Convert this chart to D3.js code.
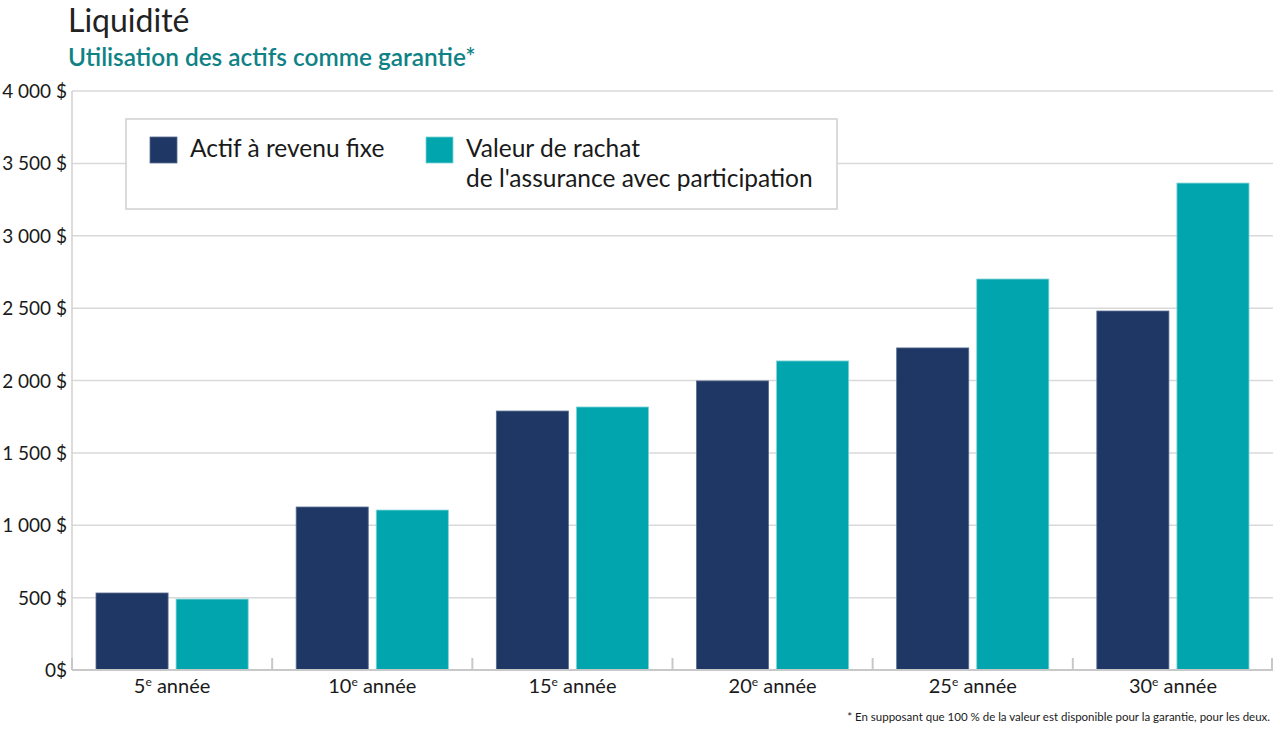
<!DOCTYPE html>
<html><head><meta charset="utf-8">
<script src="https://cdn.jsdelivr.net/npm/d3@7"></script>
<style>body{margin:0;background:#fff;} svg{display:block;font-family:Lato,"Open Sans",sans-serif;}</style>
</head><body>
<svg id="c" width="1280" height="733"></svg>
<script>
const categories = ["5", "10", "15", "20", "25", "30"];
const seriesNames = ["Actif à revenu fixe", "Valeur de rachat|de l'assurance avec participation"];
const fixedIncome = [532, 1126, 1789, 1997, 2225, 2480];
const surrenderValue = [490, 1105, 1817, 2135, 2701, 3364];
const yTicks = [0, 500, 1000, 1500, 2000, 2500, 3000, 3500, 4000];
const colors = ["#1e3765", "#00a5ad"];

const svg = d3.select("#c");
const L = 72, R = 1273, T = 91, B = 670;
const x = d3.scaleBand().domain(categories).range([L, R]).paddingInner(0).paddingOuter(0);
const x1 = d3.scaleBand().domain([0, 1]).range([24, x.bandwidth() - 24]).paddingInner(0.1);
const y = d3.scaleLinear().domain([0, 4000]).range([B, T]);

const fmt = v => v === 0 ? "0$" : d3.format(",")(v).replace(/,/g, " ") + " $";

// gridlines
svg.append("g").selectAll("line").data(yTicks.filter(d => d > 0)).join("line")
  .attr("x1", L).attr("x2", R).attr("y1", d => y(d)).attr("y2", d => y(d))
  .attr("stroke", "#d9d9d9").attr("stroke-width", 1.5);
// y labels
svg.append("g").selectAll("text").data(yTicks).join("text")
  .attr("x", 67).attr("y", d => y(d) + 7).attr("text-anchor", "end")
  .attr("font-size", 19).attr("fill", "#1a1a1a").text(fmt);
// left axis line
svg.append("line").attr("x1", L).attr("x2", L).attr("y1", T).attr("y2", B).attr("stroke", "#d0d0d0").attr("stroke-width", 1.5);

// bars
const data = categories.map((c, i) => ({c, vals: [fixedIncome[i], surrenderValue[i]]}));
const g = svg.append("g").selectAll("g").data(data).join("g").attr("transform", d => `translate(${x(d.c)},0)`);
g.selectAll("rect").data(d => d.vals.map((v, k) => ({v, k}))).join("rect")
  .attr("x", d => x1(d.k)).attr("width", x1.bandwidth())
  .attr("y", d => y(d.v)).attr("height", d => B - y(d.v))
  .attr("fill", d => colors[d.k])
  .attr("stroke", d => d.k === 0 ? "#5a6d91" : "#7fd2d6").attr("stroke-width", 0.8);

// baseline & ticks
svg.append("line").attr("x1", L).attr("x2", R).attr("y1", B).attr("y2", B).attr("stroke", "#c8c8c8").attr("stroke-width", 2);
const bounds = categories.map(c => x(c)).concat([R - 1]);
svg.append("g").selectAll("line").data(bounds).join("line")
  .attr("x1", d => d).attr("x2", d => d).attr("y1", B - 12).attr("y2", B)
  .attr("stroke", "#c8c8c8").attr("stroke-width", 2);

// x labels
const xl = svg.append("g").selectAll("text").data(categories).join("text")
  .attr("x", d => x(d) + x.bandwidth() / 2).attr("y", 693).attr("text-anchor", "middle")
  .attr("font-size", 20).attr("fill", "#1a1a1a");
xl.append("tspan").text(d => d);
xl.append("tspan").attr("dy", -7).attr("font-size", 12).text("e");
xl.append("tspan").attr("dy", 7).text(" année");

// title
svg.append("text").attr("x", 68).attr("y", 32).attr("font-size", 32).attr("fill", "#222").text("Liquidité");
svg.append("text").attr("x", 68).attr("y", 66).attr("font-size", 24.4).attr("font-weight", 600).attr("fill", "#0f8286").text("Utilisation des actifs comme garantie*");

// legend
svg.append("rect").attr("x", 126).attr("y", 119).attr("width", 711).attr("height", 90)
  .attr("fill", "#fff").attr("stroke", "#cfcfcf").attr("stroke-width", 1.5);
const lx = [150, 426];
seriesNames.forEach((n, k) => {
  svg.append("rect").attr("x", lx[k]).attr("y", 137).attr("width", 27).attr("height", 26)
    .attr("fill", colors[k]).attr("stroke", k === 0 ? "#5a6d91" : "#7fd2d6").attr("stroke-width", 0.8);
  n.split("|").forEach((line, j) => {
    svg.append("text").attr("x", lx[k] + 40).attr("y", 157 + j * 30).attr("font-size", 24.5)
      .attr("fill", "#1a1a1a").text(line);
  });
});

// footnote
svg.append("text").attr("x", 1270).attr("y", 721).attr("text-anchor", "end").attr("font-size", 11.5)
  .attr("fill", "#1a1a1a").text("* En supposant que 100 % de la valeur est disponible pour la garantie, pour les deux.");
</script>
</body></html>
